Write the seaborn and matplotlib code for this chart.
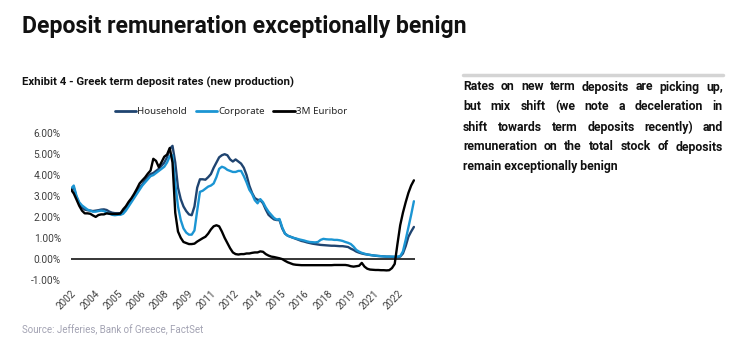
import matplotlib

matplotlib.use("Agg")
import matplotlib.pyplot as plt
import numpy as np
import pandas as pd
import seaborn as sns
from matplotlib.lines import Line2D

# one reading every two months, Sep 2002 .. Jul 2023 (%)
MONTH_STEP = 2
TICK_EVERY = 17
YEAR_LABELS = ["2002", "2004", "2005", "2006", "2008", "2009", "2011", "2012",
               "2014", "2015", "2016", "2018", "2019", "2021", "2022"]

HOUSEHOLD = [
    3.30, 3.40, 2.95, 2.65, 2.45, 2.35, 2.32, 2.30, 2.28, 2.30,
    2.32, 2.35, 2.36, 2.33, 2.25, 2.20, 2.18, 2.18, 2.18, 2.25,
    2.40, 2.60, 2.80, 3.00, 3.20, 3.40, 3.55, 3.75, 3.90, 4.05,
    4.10, 4.20, 4.30, 4.45, 4.60, 4.85, 5.25, 5.40, 4.60, 3.40,
    2.85, 2.50, 2.28, 2.12, 2.08, 2.50, 3.40, 3.80, 3.80, 3.78,
    3.90, 4.05, 4.35, 4.60, 4.85, 4.95, 5.00, 4.95, 4.75, 4.65,
    4.75, 4.65, 4.55, 4.35, 4.00, 3.50, 3.15, 2.90, 2.82, 2.80,
    2.65, 2.35, 2.10, 1.98, 1.88, 1.85, 1.85, 1.45, 1.20, 1.10,
    1.05, 1.00, 0.95, 0.90, 0.85, 0.82, 0.78, 0.75, 0.72, 0.70,
    0.68, 0.66, 0.65, 0.64, 0.63, 0.62, 0.62, 0.61, 0.60, 0.60,
    0.58, 0.56, 0.48, 0.42, 0.34, 0.29, 0.25, 0.22, 0.20, 0.18,
    0.16, 0.14, 0.13, 0.12, 0.11, 0.10, 0.10, 0.09, 0.08, 0.08,
    0.10, 0.25, 0.60, 1.05, 1.30, 1.52,
]
CORPORATE = [
    3.35, 3.50, 3.00, 2.70, 2.55, 2.45, 2.35, 2.30, 2.25, 2.25,
    2.28, 2.30, 2.28, 2.20, 2.15, 2.10, 2.08, 2.10, 2.10, 2.15,
    2.30, 2.50, 2.70, 2.90, 3.10, 3.30, 3.50, 3.65, 3.80, 3.95,
    4.00, 4.10, 4.20, 4.30, 4.40, 4.60, 4.90, 4.95, 3.60, 2.50,
    1.85, 1.45, 1.25, 1.15, 1.15, 1.35, 2.30, 3.20, 3.25, 3.35,
    3.45, 3.50, 3.60, 3.90, 4.30, 4.40, 4.35, 4.25, 4.20, 4.15,
    4.15, 4.20, 4.20, 3.95, 3.65, 3.30, 3.10, 2.80, 2.65, 2.85,
    2.70, 2.45, 2.25, 2.10, 1.95, 1.87, 1.90, 1.50, 1.20, 1.10,
    1.05, 1.00, 0.97, 0.93, 0.90, 0.87, 0.83, 0.80, 0.79, 0.78,
    0.80, 0.90, 0.95, 0.93, 0.92, 0.92, 0.90, 0.90, 0.88, 0.85,
    0.80, 0.76, 0.70, 0.58, 0.42, 0.34, 0.28, 0.24, 0.20, 0.18,
    0.16, 0.15, 0.13, 0.12, 0.11, 0.10, 0.10, 0.10, 0.10, 0.10,
    0.12, 0.35, 0.90, 1.50, 2.10, 2.75,
]
EURIBOR = [
    3.31, 3.12, 2.83, 2.53, 2.30, 2.17, 2.17, 2.15, 2.07, 2.00,
    2.09, 2.12, 2.12, 2.17, 2.15, 2.14, 2.14, 2.14, 2.16, 2.36,
    2.51, 2.72, 2.89, 3.10, 3.34, 3.60, 3.75, 3.89, 4.07, 4.22,
    4.78, 4.68, 4.38, 4.62, 4.88, 4.98, 5.30, 4.60, 2.20, 1.30,
    1.00, 0.80, 0.75, 0.70, 0.70, 0.72, 0.82, 0.90, 0.98, 1.05,
    1.20, 1.40, 1.55, 1.60, 1.55, 1.30, 1.00, 0.75, 0.50, 0.30,
    0.22, 0.20, 0.22, 0.22, 0.25, 0.25, 0.28, 0.30, 0.30, 0.35,
    0.33, 0.22, 0.15, 0.10, 0.08, 0.05, 0.02, -0.02, -0.10, -0.17,
    -0.22, -0.27, -0.29, -0.30, -0.31, -0.31, -0.31, -0.31, -0.31, -0.31,
    -0.31, -0.31, -0.31, -0.31, -0.31, -0.31, -0.30, -0.30, -0.30, -0.30,
    -0.30, -0.32, -0.36, -0.38, -0.36, -0.34, -0.20, -0.38, -0.48, -0.52,
    -0.53, -0.54, -0.54, -0.55, -0.55, -0.56, -0.55, -0.45, -0.25, 0.70,
    1.60, 2.20, 2.70, 3.15, 3.50, 3.75,
]

SERIES = ["Household", "Corporate", "3M Euribor"]
COLORS = ["#1F4470", "#1B95D3", "#000000"]

COMMENT = [
    "Rates on new term deposits are picking up,",
    "but mix shift (we note a deceleration in",
    "shift towards term deposits recently) and",
    "remuneration on the total stock of deposits",
    "remain exceptionally benign",
]

W, H = 737, 359


def build_frame() -> pd.DataFrame:
    month = np.arange(len(HOUSEHOLD)) * MONTH_STEP
    parts = []
    for name, values in zip(SERIES, [HOUSEHOLD, CORPORATE, EURIBOR]):
        parts.append(pd.DataFrame({"month": month, "rate": values, "series": name}))
    return pd.concat(parts, ignore_index=True)


def justified_text(fig, lines, x0, x1, y0, step, **kw):
    renderer = fig.canvas.get_renderer()
    for i, line in enumerate(lines):
        y = 1 - (y0 + i * step) / H
        if i == len(lines) - 1:
            fig.text(x0 / W, y, line, va="baseline", **kw)
            continue
        words = line.split()
        texts = [fig.text(0, y, w, va="baseline", **kw) for w in words]
        widths = [t.get_window_extent(renderer).width for t in texts]
        gap = (x1 - x0 - sum(widths)) / (len(words) - 1)
        x = x0
        for t, w in zip(texts, widths):
            t.set_x(x / W)
            x += w + gap


sns.set_style("white")
plt.rcParams["font.family"] = ["Roboto", "DejaVu Sans"]

df = build_frame()
fig = plt.figure(figsize=(W / 100, H / 100), dpi=100)
ax = fig.add_axes([70.6 / W, 1 - 279.6 / H, 344.4 / W, 146.3 / H])

sns.lineplot(data=df, x="month", y="rate", hue="series", hue_order=SERIES,
             palette=COLORS, linewidth=1.7, ax=ax, legend=False)
ax.axhline(0, color="black", linewidth=1.1, zorder=0)

ax.set_xlim(-0.3, 250.8)
ax.set_ylim(-1, 6)
ax.set_yticks(np.arange(-1, 7, 1))
ax.set_yticklabels([f"{v:.2f}%" for v in np.arange(-1, 7, 1)], fontsize=7.3, color="#404040")
ax.set_xticks(np.arange(len(YEAR_LABELS)) * TICK_EVERY)
ax.set_xticklabels(YEAR_LABELS, fontsize=7.2, color="#404040", rotation=45,
                   ha="right", rotation_mode="anchor")
ax.tick_params(axis="both", length=0)
ax.tick_params(axis="y", pad=7)
ax.tick_params(axis="x", pad=6)
ax.set_xlabel("")
ax.set_ylabel("")
sns.despine(ax=ax, left=True, bottom=True)

handles = [Line2D([0], [0], color=c, lw=2) for c in COLORS]
fig.legend(handles, SERIES, loc="center", bbox_to_anchor=(231 / W, 1 - 112 / H),
           ncol=3, frameon=False, handlelength=2.2, handletextpad=0.1,
           columnspacing=0.9, prop={"family": ["Noto Sans", "DejaVu Sans"], "size": 7})

fig.text(22 / W, 1 - 33 / H, "Deposit remuneration exceptionally benign",
         fontsize=16.6, fontweight="bold", color="#111111", va="baseline")
fig.text(22 / W, 1 - 86 / H, "Exhibit 4 - Greek term deposit rates (new production)",
         fontsize=8.2, fontweight="bold", color="#111111", va="baseline")
fig.text(22 / W, 1 - 333 / H, "Source: Jefferies, Bank of Greece, FactSet",
         fontsize=7, color="#a3a3b3", va="baseline")

fig.add_artist(Line2D([463 / W, 723 / W], [1 - 75 / H] * 2, color="#d4d4d4", lw=2.5))
justified_text(fig, COMMENT, 463, 723, 90.5, 20,
               fontsize=8.8, fontweight="bold", color="#111111")

fig.savefig("out.png", dpi=100)
